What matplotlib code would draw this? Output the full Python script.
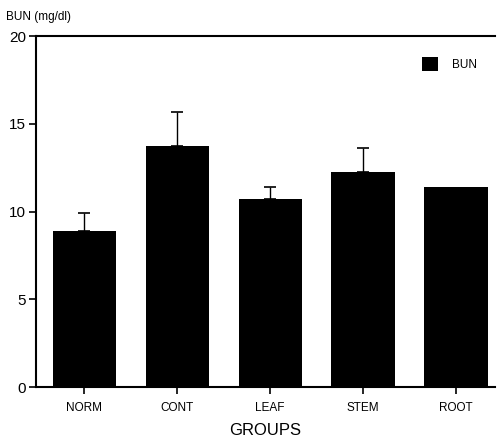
import matplotlib
matplotlib.use("Agg")
import matplotlib.pyplot as plt
import numpy as np

plt.rcParams['font.family'] = ['Liberation Sans', 'DejaVu Sans']

groups = ["NORM", "CONT", "LEAF", "STEM", "ROOT"]
bun = [8.9, 13.75, 10.7, 12.25, 11.4]
bun_err = [1.05, 1.9, 0.7, 1.35, 0.0]
yticks = [0, 5, 10, 15, 20]

fig = plt.figure(figsize=(4.99, 4.46), dpi=100)
ax = fig.add_axes([0.072, 0.132, 0.92, 0.787])

x = np.arange(len(groups))
ax.bar(x, bun, width=0.68, color='black', label='BUN', zorder=2)
err_idx = [i for i, e in enumerate(bun_err) if e > 0]
ax.errorbar(x[err_idx], [bun[i] for i in err_idx],
            yerr=[[0]*len(err_idx), [bun_err[i] for i in err_idx]],
            fmt='none', ecolor='black', elinewidth=1.0, capsize=4, capthick=1.2, zorder=3)

ax.set_xlim(-0.52, 4.42)
ax.set_ylim(0, 20)
ax.set_yticks(yticks)
ax.set_xticks(x)
ax.set_xticklabels(groups, fontsize=8.5)
ax.tick_params(axis='y', labelsize=11, length=5, width=1.2, direction='out', pad=2)
ax.tick_params(axis='x', length=5, width=1.2, direction='out', pad=6)
for s in ['left', 'bottom', 'top']:
    ax.spines[s].set_linewidth(1.5)
ax.spines['right'].set_visible(False)

ax.set_xlabel("GROUPS", fontsize=12, labelpad=6)
fig.text(0.012, 0.962, "BUN (mg/dl)", fontsize=8.5, ha='left', va='center')

leg = ax.legend(loc='upper right', bbox_to_anchor=(0.985, 0.97), frameon=False,
                fontsize=8.5, handlelength=1.4, handleheight=1.4, handletextpad=1.2)

fig.savefig("out.png", dpi=100)
